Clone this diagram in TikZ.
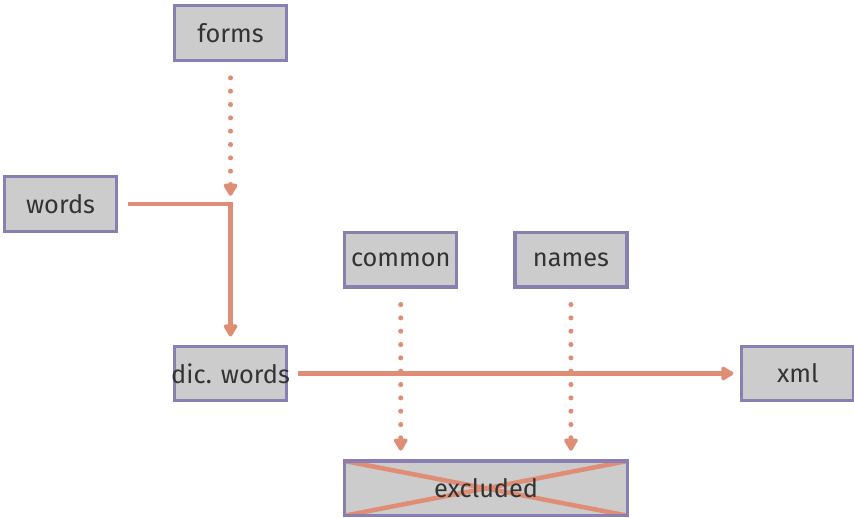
\documentclass[tikz,border=0pt]{standalone}
\usepackage{fontspec}
\setmainfont{Fira Sans}
\usepackage{tikz}
\usetikzlibrary{
  arrows.meta,
  positioning,
  calc
}
\definecolor{boxcolor}{RGB}{204, 204, 204}
\definecolor{bordercolor}{RGB}{138, 127, 178}
\definecolor{arrowcolor}{RGB}{224, 141, 118}
\definecolor{labelcolor}{RGB}{51, 51, 51}
\tikzset{
blocktext/.style={
  align=center,
  font=\fontsize{19}{22}\selectfont,
  text=labelcolor
},
fileblock/.style={
  draw=bordercolor,
  line width=2.4pt,
  fill=boxcolor,
  inner sep=0pt,
  minimum height=41pt,
  minimum width=84pt,
  blocktext
},
arr/.style={
  -{Triangle[length=10.5pt,width=11.5pt,round,fill=arrowcolor]},
  line width=3.4pt,
  draw=arrowcolor
},
dotarr/.style={
  arr,
  line width=3.8pt,
  line cap=round,
  dash pattern=on 0pt off 10pt
},
crossline/.style={
  line width=3.4pt,
  draw=arrowcolor,
  line cap=round
}
}

\begin{document}
\begin{tikzpicture}
  \useasboundingbox (-172.9pt,-108.4pt) rectangle (467.6pt,280.1pt);

  % Main row
  \node[fileblock] (dic) {\makebox[0pt]{dic. words}};
  \node[fileblock, above=212pt of dic] (forms) {forms};
  \node[fileblock, below=84.75pt of forms, xshift=-127.5pt] (words) {words};
  \node[fileblock, right=339pt of dic] (xml) {xml};

  % Lists feeding the excluded set
  \node[fileblock, above right=42pt and 41.25pt of dic] (common) {\makebox[0pt]{common}};
  \node[fileblock, right=41.25pt of common] (names) {names};
  \node[fileblock, minimum width=212pt, below right=42.75pt and 41.25pt of dic,
        path picture={
          \draw[crossline] (path picture bounding box.north west) -- (path picture bounding box.south east);
          \draw[crossline] (path picture bounding box.south west) -- (path picture bounding box.north east);
        }] (excluded) {excluded};

  \coordinate (junc) at (forms |- words);

  % Arrows
  \draw[dotarr, shorten <=12pt, shorten >=6pt] (forms.south) -- (junc);
  \draw[arr, shorten <=7.5pt, shorten >=6pt] (words.east) -| (dic.north);
  \draw[arr, shorten <=7.5pt, shorten >=5pt] (dic.east) -- (xml.west);
  \draw[dotarr, shorten <=12pt, shorten >=6.5pt] (common.south) -- (common |- excluded.north);
  \draw[dotarr, shorten <=12pt, shorten >=6.5pt] (names.south) -- (names |- excluded.north);
\end{tikzpicture}
\end{document}
